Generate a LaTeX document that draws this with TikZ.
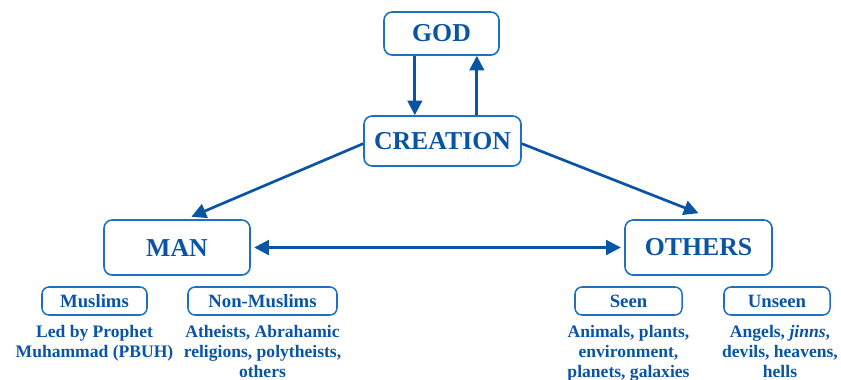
\documentclass[tikz,border=0pt]{standalone}
\usepackage{fontspec}
\setmainfont{Liberation Serif}
\usepackage{xcolor}
\usetikzlibrary{arrows.meta,positioning}
\definecolor{boxblue}{RGB}{32,112,192}
\definecolor{inkblue}{RGB}{10,84,164}
\tikzset{
  bigbox/.style={
    draw = boxblue,
    line width = 1.4pt,
    rounded corners = 7pt,
    text = inkblue,
    font = \fontsize{22}{24}\selectfont\bfseries,
    inner sep = 0pt
  },
  smallbox/.style={
    draw = boxblue,
    line width = 1.3pt,
    rounded corners = 6pt,
    text = inkblue,
    font = \fontsize{16}{18}\selectfont\bfseries,
    minimum height = 0.84cm,
    inner sep = 0pt
  },
  note/.style={
    anchor = north,
    align = center,
    text = inkblue,
    font = \fontsize{15}{17.2}\selectfont\bfseries,
    inner sep = 0pt
  },
  flow/.style={
    draw = inkblue,
    line width = 2.3pt,
    -{Triangle[length=12.5pt,width=12.5pt]}
  },
  twoway/.style={
    draw = inkblue,
    line width = 2.3pt,
    {Triangle[length=12.5pt,width=12.5pt]}-{Triangle[length=12.5pt,width=12.5pt]}
  }
}
\begin{document}
\begin{tikzpicture}[x=0.03cm,y=-0.03cm]
    \useasboundingbox (0,0) rectangle (841,379);
    % main boxes
    \node[bigbox, minimum width=3.45cm, minimum height=1.29cm] (god) at (441.5,33.5) {GOD};
    \node[bigbox, minimum width=4.71cm, minimum height=1.5cm] (creation) at (442.5,141) {CREATION};
    \node[bigbox, minimum width=4.38cm, minimum height=1.65cm] (man) at (177,247.5) {MAN};
    \node[bigbox, minimum width=4.41cm, minimum height=1.65cm] (others) at (698.5,247.5) {OTHERS};
    % sub boxes
    \node[smallbox, minimum width=3.15cm] (muslims) at (94.5,301) {Muslims};
    \node[smallbox, minimum width=4.47cm] (nonmuslims) at (262.5,301) {Non-Muslims};
    \node[smallbox, minimum width=3.21cm] (seen) at (628.5,301) {Seen};
    \node[smallbox, minimum width=3.18cm] (unseen) at (777,301) {Unseen};
    % descriptions
    \node[note, below=0.28cm of muslims] (muslimstxt) {Led by Prophet\\Muhammad (PBUH)};
    \node[note, below=0.28cm of nonmuslims] (nonmuslimstxt) {Atheists, Abrahamic\\religions, polytheists,\\others};
    \node[note, below=0.28cm of seen] (seentxt) {Animals, plants,\\environment,\\planets, galaxies};
    \node[note, below=0.28cm of unseen, xshift=0.09cm] (unseentxt) {Angels, \textit{jinns},\\devils, heavens,\\hells};
    % arrows
    \draw[flow] ([xshift=-0.8cm]god.south) -- ([xshift=-0.8cm]god.south |- creation.north);
    \draw[flow] ([xshift=1.03cm]creation.north) -- ([xshift=1.03cm]creation.north |- god.south);
    \draw[flow, shorten >=1pt] ([yshift=-0.08cm]creation.west) -- ([xshift=0.4cm,yshift=0.06cm]man.north);
    \draw[flow] ([yshift=-0.08cm]creation.east) -- ([yshift=0.18cm]others.north);
    \draw[twoway] ([xshift=0.1cm]man.east) -- ([xshift=-0.1cm]others.west);
\end{tikzpicture}
\end{document}
